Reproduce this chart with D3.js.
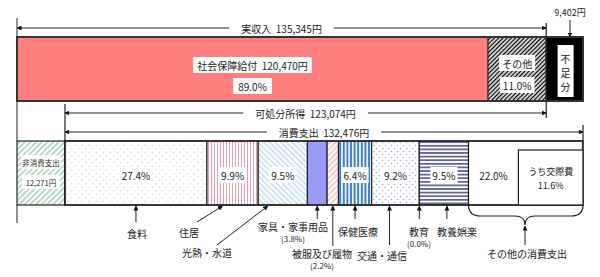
<!DOCTYPE html>
<html lang="ja">
<head>
<meta charset="UTF-8">
<script src="https://d3js.org/d3.v7.min.js"></script>
<style>
  body { margin: 0; background: #fff; }
  text { font-family: "Noto Sans CJK JP", sans-serif; fill: #222; white-space: pre; }
</style>
</head>
<body>
<div id="chart"></div>
<script>
// ---- data ----
const realIncome = 135345;
const deficit = 9402;
const disposableIncome = 123074;
const consumption = 132476;
const nonConsumption = 12271;

const incomeLabels = ["社会保障給付", "その他", "不足分"];
const incomeValues = [120470, 14875, 9402];
const incomePct = ["89.0%", "11.0%", ""];

const expCats = ["食料", "住居", "光熱・水道", "家具・家事用品", "被服及び履物", "保健医療",
  "交通・通信", "教育", "教養娯楽", "その他の消費支出"];
const expPct = [27.4, 9.9, 9.5, 3.8, 2.2, 6.4, 9.2, 0.0, 9.5, 22.0];
const socialPct = 11.6; // うち交際費

const width = 600, height = 277;
const svg = d3.select("#chart").append("svg")
  .attr("width", width).attr("height", height);

const x = d3.scaleLinear().domain([0, realIncome + deficit]).range([17, 583]);

const defs = svg.append("defs");

// arrow head
defs.append("marker").attr("id", "arr")
  .attr("viewBox", "0 0 10 10").attr("refX", 9).attr("refY", 5)
  .attr("markerWidth", 5).attr("markerHeight", 5).attr("markerUnits", "userSpaceOnUse")
  .attr("orient", "auto")
  .append("path").attr("d", "M0,0 L10,5 L0,10 z").attr("fill", "#111");

// line patterns
function linePattern(id, size, angle, color, sw, bg) {
  const p = defs.append("pattern").attr("id", id)
    .attr("patternUnits", "userSpaceOnUse").attr("width", size).attr("height", size)
    .attr("patternTransform", `rotate(${angle})`);
  p.append("rect").attr("width", size).attr("height", size).attr("fill", bg || "#fff");
  p.append("line").attr("x1", size / 2).attr("x2", size / 2).attr("y1", 0).attr("y2", size)
    .attr("stroke", color).attr("stroke-width", sw);
}
function dotPattern(id, size, color, r) {
  const p = defs.append("pattern").attr("id", id)
    .attr("patternUnits", "userSpaceOnUse").attr("width", size).attr("height", size);
  p.append("rect").attr("width", size).attr("height", size).attr("fill", "#fff");
  p.append("circle").attr("cx", size / 4).attr("cy", size / 4).attr("r", r).attr("fill", color);
  p.append("circle").attr("cx", size * 3 / 4).attr("cy", size * 3 / 4).attr("r", r).attr("fill", color);
}
linePattern("pBlack", 3, 45, "#000", 1.4);
linePattern("pGreen", 4, 45, "#7fb99a", 1.1);
dotPattern("pFood", 7, "#b4bccb", 0.6);
linePattern("pHouse", 3, 0, "#e7a0a8", 1);
linePattern("pLight", 4, -45, "#a9cfe4", 1.1);
linePattern("pCloth", 4, 45, "#eaa5a5", 1.1);
linePattern("pHealth", 3.6, 0, "#3a7fc2", 2);
dotPattern("pTrans", 6, "#9fb0d4", 0.8);
linePattern("pCult", 3.6, 90, "#232c6e", 1.3);

const expFills = ["url(#pFood)", "url(#pHouse)", "url(#pLight)", "#9a9af8", "url(#pCloth)",
  "url(#pHealth)", "url(#pTrans)", "#fff", "url(#pCult)", "#fff"];
const incomeFills = ["#ff7f7f", "url(#pBlack)", "#000"];

// ---- top bar ----
const topY = 37, topH = 64;
let acc = 0;
const incSegs = incomeValues.map((v, i) => {
  const s = { x0: acc, x1: acc + v, i };
  acc += v;
  return s;
});

svg.selectAll(".inc").data(incSegs).enter().append("rect")
  .attr("x", d => x(d.x0)).attr("y", topY)
  .attr("width", d => x(d.x1) - x(d.x0)).attr("height", topH)
  .attr("fill", d => incomeFills[d.i])
  .attr("stroke", "#222").attr("stroke-width", 1);
svg.append("rect").attr("x", x(0)).attr("y", topY)
  .attr("width", x(realIncome + deficit) - x(0)).attr("height", topH)
  .attr("fill", "none").attr("stroke", "#333").attr("stroke-width", 2);

function boxedText(cx, cy, str, size, pad) {
  const g = svg.append("g");
  const r = g.append("rect").attr("fill", "#fff");
  const t = g.append("text").attr("x", cx).attr("y", cy).attr("text-anchor", "middle")
    .attr("dominant-baseline", "central").style("font-size", size + "px").text(str);
  const w = t.node().getComputedTextLength();
  r.attr("x", cx - w / 2 - pad).attr("y", cy - size / 2 - 3)
    .attr("width", w + pad * 2).attr("height", size + 6);
  return g;
}

// 社会保障給付 / その他
boxedText((x(incSegs[0].x0) + x(incSegs[0].x1)) / 2, 65,
  incomeLabels[0] + "  " + d3.format(",")(incomeValues[0]) + "円", 10, 4);
boxedText((x(incSegs[0].x0) + x(incSegs[0].x1)) / 2, 86, incomePct[0], 10, 5);
boxedText((x(incSegs[1].x0) + x(incSegs[1].x1)) / 2, 63, incomeLabels[1], 10, 3);
boxedText((x(incSegs[1].x0) + x(incSegs[1].x1)) / 2, 85, incomePct[1], 10, 3);

// 不足分 (vertical)
const defCx = (x(incSegs[2].x0) + x(incSegs[2].x1)) / 2 + 1;
svg.append("rect").attr("x", defCx - 8).attr("y", 45).attr("width", 16).attr("height", 52).attr("fill", "#fff");
incomeLabels[2].split("").forEach((c, i) => {
  svg.append("text").attr("x", defCx).attr("y", 58 + i * 14).attr("text-anchor", "middle")
    .attr("dominant-baseline", "central").style("font-size", "10px").text(c);
});

// ---- bottom bar ----
const botY = 141, botH = 64;
let e0 = nonConsumption;
const expSegs = expPct.map((p, i) => {
  const v = consumption * p / 100;
  const s = { x0: e0, x1: e0 + v, i, p };
  e0 += v;
  return s;
});

svg.append("rect").attr("x", x(0)).attr("y", botY)
  .attr("width", x(nonConsumption) - x(0)).attr("height", botH)
  .attr("fill", "url(#pGreen)").attr("stroke", "#222").attr("stroke-width", 1.2);

svg.selectAll(".exp").data(expSegs).enter().append("rect")
  .attr("x", d => x(d.x0)).attr("y", botY)
  .attr("width", d => x(d.x1) - x(d.x0)).attr("height", botH)
  .attr("fill", d => expFills[d.i])
  .attr("stroke", "#222").attr("stroke-width", 1.2);
svg.append("rect").attr("x", x(nonConsumption)).attr("y", botY)
  .attr("width", x(realIncome + deficit) - x(nonConsumption)).attr("height", botH)
  .attr("fill", "none").attr("stroke", "#222").attr("stroke-width", 1.5);

// うち交際費 box
const lastSeg = expSegs[expSegs.length - 1];
const socX0 = x(lastSeg.x1 - consumption * socialPct / 100) - 4;
svg.append("rect").attr("x", socX0).attr("y", 150)
  .attr("width", x(realIncome + deficit) - socX0).attr("height", botY + botH - 150)
  .attr("fill", "#fff").attr("stroke", "#222").attr("stroke-width", 1.2);
const socCx = (socX0 + x(realIncome + deficit)) / 2;
svg.append("text").attr("x", socCx).attr("y", 171).attr("text-anchor", "middle")
  .attr("dominant-baseline", "central").style("font-size", "9px").text("うち交際費");
svg.append("text").attr("x", socCx).attr("y", 185).attr("text-anchor", "middle")
  .attr("dominant-baseline", "central").style("font-size", "9px").text(socialPct.toFixed(1) + "%");

// percentage labels in bottom bar
expSegs.forEach(d => {
  if (d.p < 5) return;
  const cx = d.i === expSegs.length - 1 ? (x(d.x0) + socX0) / 2 : (x(d.x0) + x(d.x1)) / 2;
  boxedText(cx, 175, d.p.toFixed(1) + "%", 10, d.i === 0 ? 0 : 2);
});

// 非消費支出
const ncCx = (x(0) + x(nonConsumption)) / 2;
boxedText(ncCx, 162, "非消費支出", 7.5, 1);
boxedText(ncCx, 182, d3.format(",")(nonConsumption) + "円", 7.5, 4);

// ---- guide lines & span arrows ----
function vline(px, y1, y2, w) {
  svg.append("line").attr("x1", px).attr("x2", px).attr("y1", y1).attr("y2", y2)
    .attr("stroke", "#222").attr("stroke-width", w || 1);
}
vline(x(0), 18, topY);
vline(x(0), topY + topH, botY);
vline(x(0), botY + botH, 223);
vline(x(realIncome), 23, 118, 1.2);
vline(x(nonConsumption), 104, botY, 1.2);
vline(x(realIncome + deficit), 125, botY, 1.2);

function spanArrow(a, b, y, label) {
  const cx = (a + b) / 2;
  const t = svg.append("text").attr("x", cx).attr("y", y).attr("text-anchor", "middle")
    .attr("dominant-baseline", "central").style("font-size", "10px").text(label);
  const w = t.node().getComputedTextLength();
  svg.append("line").attr("x1", cx - w / 2 - 12).attr("x2", a).attr("y1", y).attr("y2", y)
    .attr("stroke", "#222").attr("stroke-width", 1).attr("marker-end", "url(#arr)");
  svg.append("line").attr("x1", cx + w / 2 + 12).attr("x2", b).attr("y1", y).attr("y2", y)
    .attr("stroke", "#222").attr("stroke-width", 1).attr("marker-end", "url(#arr)");
}
const yen = v => d3.format(",")(v) + "円";
spanArrow(x(0), x(realIncome), 28, "実収入  " + yen(realIncome));
spanArrow(x(nonConsumption), x(realIncome), 113, "可処分所得  " + yen(disposableIncome));
spanArrow(x(nonConsumption), x(realIncome + deficit), 132, "消費支出  " + yen(consumption));

// deficit label
svg.append("text").attr("x", 570).attr("y", 12).attr("text-anchor", "middle")
  .attr("dominant-baseline", "central").style("font-size", "9px").text(yen(deficit));
svg.append("line").attr("x1", 570).attr("x2", 570).attr("y1", 20).attr("y2", topY)
  .attr("stroke", "#222").attr("marker-end", "url(#arr)");

// ---- category annotations below ----
// layout: label centre x, label y, arrow start (x,y), target x offset from segment centre
const annLayout = [
  { lx: 137, ly: 233, sx: null, sy: 222, dx: 0 },
  { lx: 189, ly: 232, sx: 197, sy: 222, dx: -10 },
  { lx: 207, ly: 252, sx: 217, sy: 245, dx: -15 },
  { lx: 293, ly: 226, sx: null, sy: 219, dx: 0, sub: "(3.8%)" },
  { lx: 322, ly: 253, sx: null, sy: 246, dx: 0, sub: "(2.2%)" },
  { lx: 358, ly: 231, sx: null, sy: 219, dx: 0 },
  { lx: 382, ly: 255, sx: null, sy: 245, dx: -6 },
  { lx: 419, ly: 231, sx: null, sy: 219, dx: 0, sub: "(0.0%)" },
  { lx: 457, ly: 231, sx: null, sy: 219, dx: 3 },
  { lx: 527, ly: 253, sx: 525, sy: 245, dx: 0 }
];

expSegs.forEach((d, i) => {
  const L = annLayout[i];
  svg.append("text").attr("x", L.lx).attr("y", L.ly).attr("text-anchor", "middle")
    .attr("dominant-baseline", "central").style("font-size", "10px").text(expCats[i]);
  if (L.sub) {
    svg.append("text").attr("x", L.lx).attr("y", L.ly + 12).attr("text-anchor", "middle")
      .attr("dominant-baseline", "central").style("font-size", "8px").text(L.sub);
  }
  if (i === expSegs.length - 1) return;
  const tx = (x(d.x0) + x(d.x1)) / 2 + L.dx;
  const sx = L.sx === null ? tx : L.sx;
  svg.append("line").attr("x1", sx).attr("y1", L.sy).attr("x2", tx).attr("y2", botY + botH + 1)
    .attr("stroke", "#222").attr("stroke-width", 1).attr("marker-end", "url(#arr)");
});

// brace for その他の消費支出
const bx0 = x(lastSeg.x0), bx1 = x(realIncome + deficit), bm = 525, by = botY + botH;
svg.append("path")
  .attr("d", `M${bx0},${by} Q${bx0},${by + 11} ${bx0 + 12},${by + 11} L${bm - 10},${by + 11} Q${bm},${by + 11} ${bm},${by + 20}
              Q${bm},${by + 11} ${bm + 10},${by + 11} L${bx1 - 12},${by + 11} Q${bx1},${by + 11} ${bx1},${by}`)
  .attr("fill", "none").attr("stroke", "#222").attr("stroke-width", 1.2);
svg.append("line").attr("x1", bm).attr("x2", bm).attr("y1", 245).attr("y2", by + 21)
  .attr("stroke", "#222").attr("marker-end", "url(#arr)");
</script>
</body>
</html>
